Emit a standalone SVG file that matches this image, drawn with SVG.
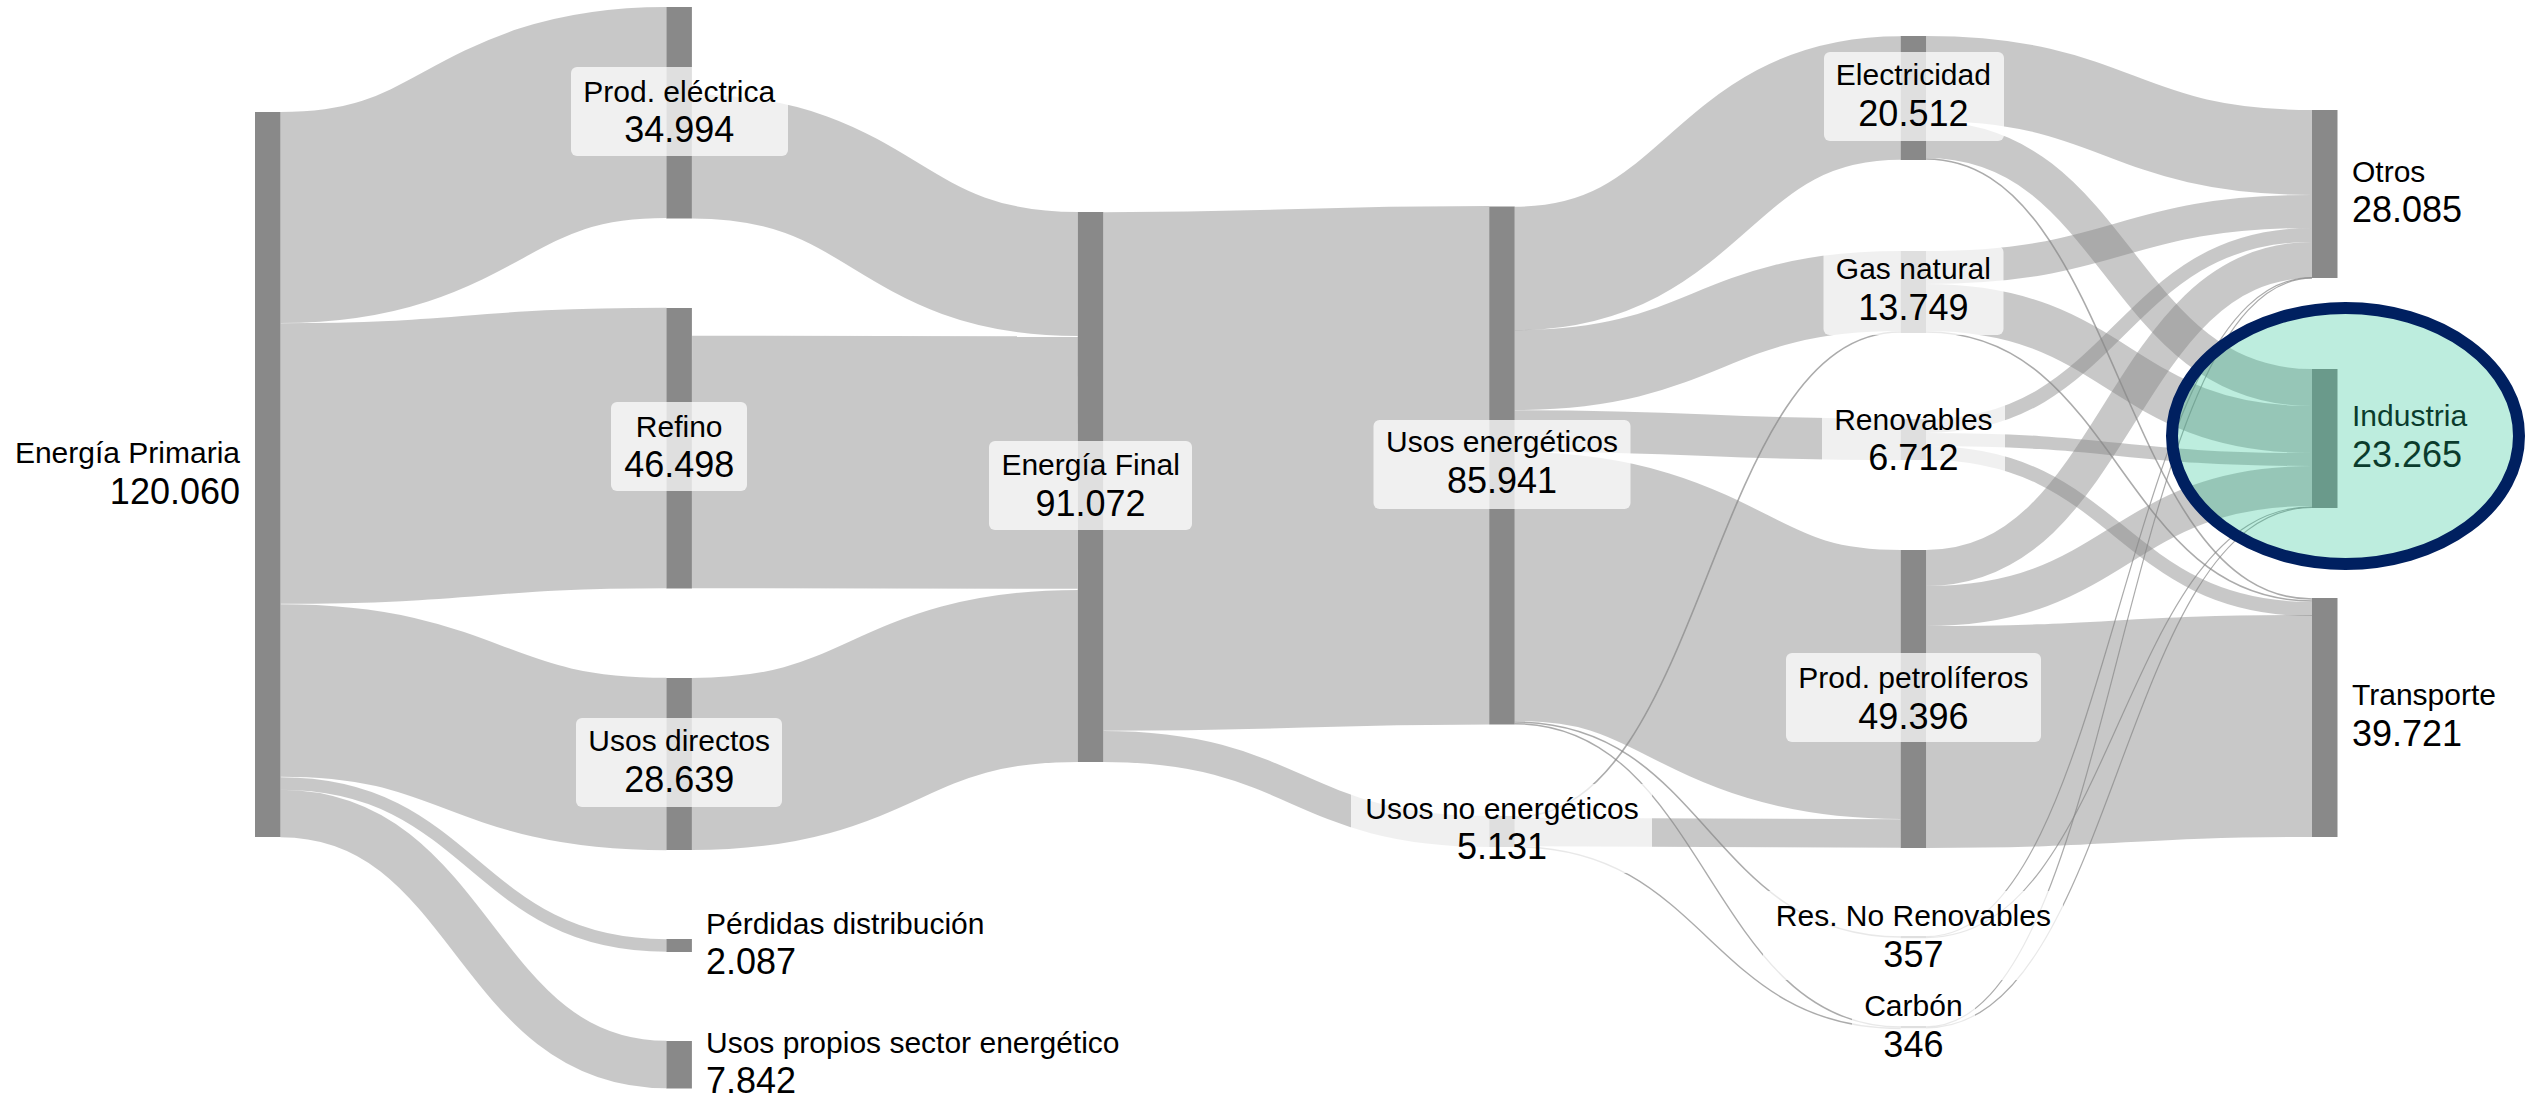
<svg xmlns="http://www.w3.org/2000/svg" width="2527" height="1099" viewBox="0 0 2527 1099">
<style>
.lk{fill:none;stroke:#888888;stroke-opacity:0.46}
.th{fill:none;stroke:#888888;stroke-opacity:0.7}
.nd{fill:#898989}
.bx{fill:#ffffff;fill-opacity:0.73}
.t1{font-family:"Liberation Sans",Arial,sans-serif;font-size:30px;fill:#000}
.t2{font-family:"Liberation Sans",Arial,sans-serif;font-size:36px;fill:#000}
.c{text-anchor:middle}
.e{text-anchor:end}
</style>
<rect width="2527" height="1099" fill="#ffffff"/>
<g id="connectors">
<path class="lk" stroke-width="211" d="M280.5,217.5 C473.5,217.5 473.5,112.5 666.4,112.5"/>
<path class="lk" stroke-width="280.5" d="M280.5,463.5 C473.5,463.5 473.5,448 666.4,448"/>
<path class="lk" stroke-width="172.5" d="M280.5,690.5 C473.5,690.5 473.5,764 666.4,764"/>
<path class="lk" stroke-width="12.6" d="M280.5,783.5 C473.5,783.5 473.5,945.5 666.4,945.5"/>
<path class="lk" stroke-width="47.4" d="M280.5,813.5 C473.5,813.5 473.5,1064.5 666.4,1064.5"/>
<path class="lk" stroke-width="124" d="M691.9,156.5 C884.9,156.5 884.9,274 1077.8,274"/>
<path class="lk" stroke-width="252.5" d="M691.9,462 C884.9,462 884.9,462.5 1077.8,462.5"/>
<path class="lk" stroke-width="172" d="M691.9,764 C884.9,764 884.9,676 1077.8,676"/>
<path class="lk" stroke-width="518.5" d="M1103.3,471.5 C1296.3,471.5 1296.3,465.3 1489.2,465.3"/>
<path class="lk" stroke-width="31" d="M1103.3,746.5 C1296.3,746.5 1296.3,831.5 1489.2,831.5"/>
<path class="lk" stroke-width="123.5" d="M1514.7,268.5 C1707.7,268.5 1707.7,98 1900.6,98"/>
<path class="lk" stroke-width="80" d="M1514.7,370 C1707.7,370 1707.7,291 1900.6,291"/>
<path class="lk" stroke-width="41.5" d="M1514.7,431 C1707.7,431 1707.7,439.5 1900.6,439.5"/>
<path class="lk" stroke-width="269" d="M1514.7,586.5 C1707.7,586.5 1707.7,684.5 1900.6,684.5"/>
<path class="th" stroke-width="1.6" d="M1514.7,722 C1707.7,722 1707.7,937 1900.6,937"/>
<path class="th" stroke-width="1.4" d="M1514.7,723.7 C1707.7,723.7 1707.7,1027 1900.6,1027"/>
<path class="th" stroke-width="1.6" d="M1514.7,817 C1707.7,817 1707.7,332 1900.6,332"/>
<path class="lk" stroke-width="28.5" d="M1514.7,832 C1707.7,832 1707.7,833.5 1900.6,833.5"/>
<path class="th" stroke-width="1.4" d="M1514.7,846.8 C1707.7,846.8 1707.7,1028.5 1900.6,1028.5"/>
<path class="lk" stroke-width="85" d="M1926.1,78.5 C2119,78.5 2119,152.5 2312,152.5"/>
<path class="lk" stroke-width="37" d="M1926.1,139.5 C2119,139.5 2119,387.5 2312,387.5"/>
<path class="th" stroke-width="1.6" d="M1926.1,159 C2119,159 2119,599 2312,599"/>
<path class="lk" stroke-width="33" d="M1926.1,267.5 C2119,267.5 2119,211.5 2312,211.5"/>
<path class="lk" stroke-width="47" d="M1926.1,307.5 C2119,307.5 2119,429.5 2312,429.5"/>
<path class="th" stroke-width="1.6" d="M1926.1,332 C2119,332 2119,601 2312,601"/>
<path class="lk" stroke-width="14" d="M1926.1,426 C2119,426 2119,235 2312,235"/>
<path class="lk" stroke-width="13" d="M1926.1,439.5 C2119,439.5 2119,459.5 2312,459.5"/>
<path class="lk" stroke-width="14" d="M1926.1,453 C2119,453 2119,609 2312,609"/>
<path class="lk" stroke-width="36" d="M1926.1,568 C2119,568 2119,260 2312,260"/>
<path class="lk" stroke-width="40" d="M1926.1,606 C2119,606 2119,486 2312,486"/>
<path class="lk" stroke-width="222" d="M1926.1,737 C2119,737 2119,726 2312,726"/>
<path class="th" stroke-width="1.2" d="M1926.1,936.7 C2119,936.7 2119,277.6 2312,277.6"/>
<path class="th" stroke-width="1.2" d="M1926.1,937.6 C2119,937.6 2119,506.9 2312,506.9"/>
<path class="th" stroke-width="1.2" d="M1926.1,1026.8 C2119,1026.8 2119,278.2 2312,278.2"/>
<path class="th" stroke-width="1.2" d="M1926.1,1027.8 C2119,1027.8 2119,507.5 2312,507.5"/>
</g>
<g id="n-energia-primaria"><rect class="nd" x="255" y="112" width="25.5" height="725"/>
<text class="t1 e" x="240" y="462.5">Energía Primaria</text><text class="t2 e" x="240" y="503.5">120.060</text></g>
<g id="n-prod-electrica"><rect class="nd" x="666.4" y="7" width="25.5" height="211.5"/>
<rect class="bx" x="571" y="67" width="217" height="89" rx="6"/>
<text class="t1 c" x="679.2" y="102">Prod. eléctrica</text><text class="t2 c" x="679.2" y="142">34.994</text></g>
<g id="n-refino"><rect class="nd" x="666.4" y="308" width="25.5" height="280.5"/>
<rect class="bx" x="611" y="402" width="136" height="89" rx="6"/>
<text class="t1 c" x="679.2" y="437">Refino</text><text class="t2 c" x="679.2" y="477">46.498</text></g>
<g id="n-usos-directos"><rect class="nd" x="666.4" y="678" width="25.5" height="172"/>
<rect class="bx" x="576" y="718" width="206" height="89" rx="6"/>
<text class="t1 c" x="679.2" y="751">Usos directos</text><text class="t2 c" x="679.2" y="792">28.639</text></g>
<g id="n-perdidas"><rect class="nd" x="666.4" y="939" width="25.5" height="13"/>
<text class="t1" x="706" y="933.5">Pérdidas distribución</text><text class="t2" x="706" y="974">2.087</text></g>
<g id="n-usos-propios"><rect class="nd" x="666.4" y="1041" width="25.5" height="47.5"/>
<text class="t1" x="706" y="1052.5">Usos propios sector energético</text><text class="t2" x="706" y="1093">7.842</text></g>
<g id="n-energia-final"><rect class="nd" x="1077.8" y="212" width="25.5" height="550"/>
<rect class="bx" x="989" y="441" width="203" height="89" rx="6"/>
<text class="t1 c" x="1090.6" y="475">Energía Final</text><text class="t2 c" x="1090.6" y="516">91.072</text></g>
<g id="n-usos-energeticos"><rect class="nd" x="1489.2" y="206.5" width="25.5" height="518"/>
<rect class="bx" x="1373.5" y="420" width="257" height="89" rx="6"/>
<text class="t1 c" x="1502" y="452">Usos energéticos</text><text class="t2 c" x="1502" y="493">85.941</text></g>
<g id="n-usos-no-energeticos"><rect class="nd" x="1489.2" y="816" width="25.5" height="31"/>
<rect class="bx" x="1351" y="784" width="301" height="89" rx="6"/>
<text class="t1 c" x="1502" y="819">Usos no energéticos</text><text class="t2 c" x="1502" y="859">5.131</text></g>
<g id="n-electricidad"><rect class="nd" x="1900.6" y="36" width="25.5" height="124"/>
<rect class="bx" x="1824" y="52" width="180" height="89" rx="6"/>
<text class="t1 c" x="1913.4" y="85">Electricidad</text><text class="t2 c" x="1913.4" y="126">20.512</text></g>
<g id="n-gas-natural"><rect class="nd" x="1900.6" y="251" width="25.5" height="82"/>
<rect class="bx" x="1823.5" y="246" width="180" height="89" rx="6"/>
<text class="t1 c" x="1913.4" y="279">Gas natural</text><text class="t2 c" x="1913.4" y="319.5">13.749</text></g>
<g id="n-renovables"><rect class="nd" x="1900.6" y="419" width="25.5" height="41"/>
<rect class="bx" x="1822" y="395" width="183" height="89" rx="6"/>
<text class="t1 c" x="1913.4" y="429.5">Renovables</text><text class="t2 c" x="1913.4" y="470">6.712</text></g>
<g id="n-prod-petroliferos"><rect class="nd" x="1900.6" y="550" width="25.5" height="298"/>
<rect class="bx" x="1786" y="653" width="255" height="89" rx="6"/>
<text class="t1 c" x="1913.4" y="687.5">Prod. petrolíferos</text><text class="t2 c" x="1913.4" y="728.5">49.396</text></g>
<g id="n-res-no-renovables"><rect class="nd" x="1900.6" y="936" width="25.5" height="2.2"/>
<rect class="bx" x="1763" y="891" width="300" height="89" rx="6"/>
<text class="t1 c" x="1913.4" y="926">Res. No Renovables</text><text class="t2 c" x="1913.4" y="967">357</text></g>
<g id="n-carbon"><rect class="nd" x="1900.6" y="1026" width="25.5" height="2.2"/>
<rect class="bx" x="1852" y="981" width="123" height="89" rx="6"/>
<text class="t1 c" x="1913.4" y="1016">Carbón</text><text class="t2 c" x="1913.4" y="1057">346</text></g>
<g id="n-otros"><rect class="nd" x="2312" y="110" width="25.5" height="168"/>
<text class="t1" x="2352" y="182">Otros</text><text class="t2" x="2352" y="222">28.085</text></g>
<g id="n-industria"><rect class="nd" x="2312" y="369" width="25.5" height="139"/>
<text class="t1" x="2352" y="426">Industria</text><text class="t2" x="2352" y="466.5">23.265</text></g>
<g id="n-transporte"><rect class="nd" x="2312" y="598" width="25.5" height="239"/>
<text class="t1" x="2352" y="705">Transporte</text><text class="t2" x="2352" y="746">39.721</text></g>
<g id="highlight"><ellipse cx="2345.5" cy="436" rx="173.5" ry="128" fill="#26c391" fill-opacity="0.3" stroke="#002060" stroke-width="12"/></g>
</svg>
